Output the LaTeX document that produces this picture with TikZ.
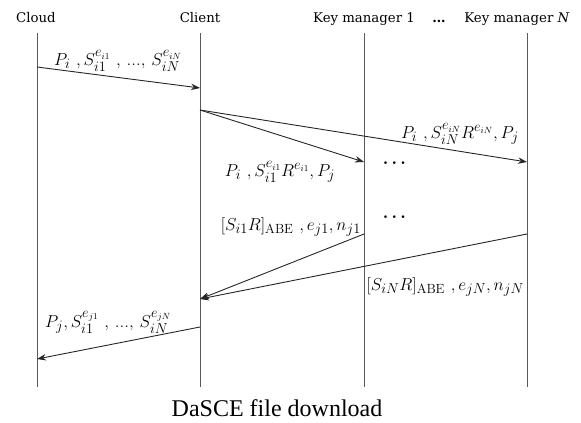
\documentclass[tikz,border=0pt]{standalone}
\usepackage{fontspec}
\usepackage{amsmath}
\newfontfamily\capfont{Liberation Serif}
\newfontfamily\hdrfont{DejaVu Serif}
\usetikzlibrary{arrows.meta}
\begin{document}
\begin{tikzpicture}[x=1pt,y=-1pt,
  hdr/.style={font=\hdrfont\fontsize{13.3}{15}\selectfont, inner sep=0pt, anchor=base},
  life/.style={draw=black!65, line width=0.9pt},
  msg/.style={draw=black!85, line width=0.9pt, -{Stealth[length=9pt,width=6.5pt]}},
  lab/.style={font=\fontsize{19}{22}\selectfont, inner sep=0pt}]
\useasboundingbox (0,0) rectangle (581,423);
% headers
\node[hdr] (hcloud) at (36,23) {Cloud};
\node[hdr] (hclient) at (200,23) {Client};
\node[hdr] (hkm1) at (364,23) {Key manager 1};
\node[hdr] (hdots) at (439,23) {\textbf{\dots}};
\node[hdr] (hkmn) at (517,23) {Key manager \textit{N}};
% lifelines
\foreach \n/\x in {cl/37, ci/200, k1/364, kn/527} {
  \coordinate (\n top) at (\x,33);
  \coordinate (\n bot) at (\x,387);
  \draw[life] (\n top) -- (\n bot);
}
% message endpoints
\coordinate (a1) at (37,67);   \coordinate (b1) at (200,88);
\coordinate (a2) at (200,110); \coordinate (b2) at (364,162);
\coordinate (b3) at (527,162);
\coordinate (a4) at (364,234); \coordinate (b4) at (200,299);
\coordinate (a5) at (527,234);
\coordinate (a6) at (200,327); \coordinate (b6) at (37,359);
\draw[msg] (a1) -- (b1);
\draw[msg] (a2) -- (b2);
\draw[msg] (a2) -- (b3);
\draw[msg] (a4) -- (b4);
\draw[msg] (a5) -- (b4);
\draw[msg] (a6) -- (b6);
% labels
\node[lab, anchor=base west] (l1) at (54,65) {$P_i\ , S_{i1}^{e_{i1}}\ ,\,\text{...},\,S_{iN}^{e_{iN}}$};
\node[lab, anchor=base east] (l3) at (519,138) {$P_i\ , S_{iN}^{e_{iN}}R^{e_{iN}}, P_j$};
\node[lab, anchor=base] (l2) at (280,176) {$P_i\ , S_{i1}^{e_{i1}}R^{e_{i1}}, P_j$};
\node[lab, anchor=base east] (l4) at (361,230) {$[S_{i1}R]_{\mathrm{ABE}}\ , e_{j1}, n_{j1}$};
\node[lab, anchor=base east] (l5) at (524,290) {$[S_{iN}R]_{\mathrm{ABE}}\ , e_{jN}, n_{jN}$};
\node[lab, anchor=base west] (l6) at (45,327) {$P_j, S_{i1}^{e_{j1}}\ ,\,\text{...},\,S_{iN}^{e_{jN}}$};
\node[lab] (d1) at (396,163) {$\boldsymbol{\cdots}$};
\node[lab] (d2) at (396,217) {$\boldsymbol{\cdots}$};
% caption
\node[font=\capfont\fontsize{24}{28}\selectfont, inner sep=0pt, anchor=base] (cap) at (277,416) {DaSCE file download};
\end{tikzpicture}
\end{document}
